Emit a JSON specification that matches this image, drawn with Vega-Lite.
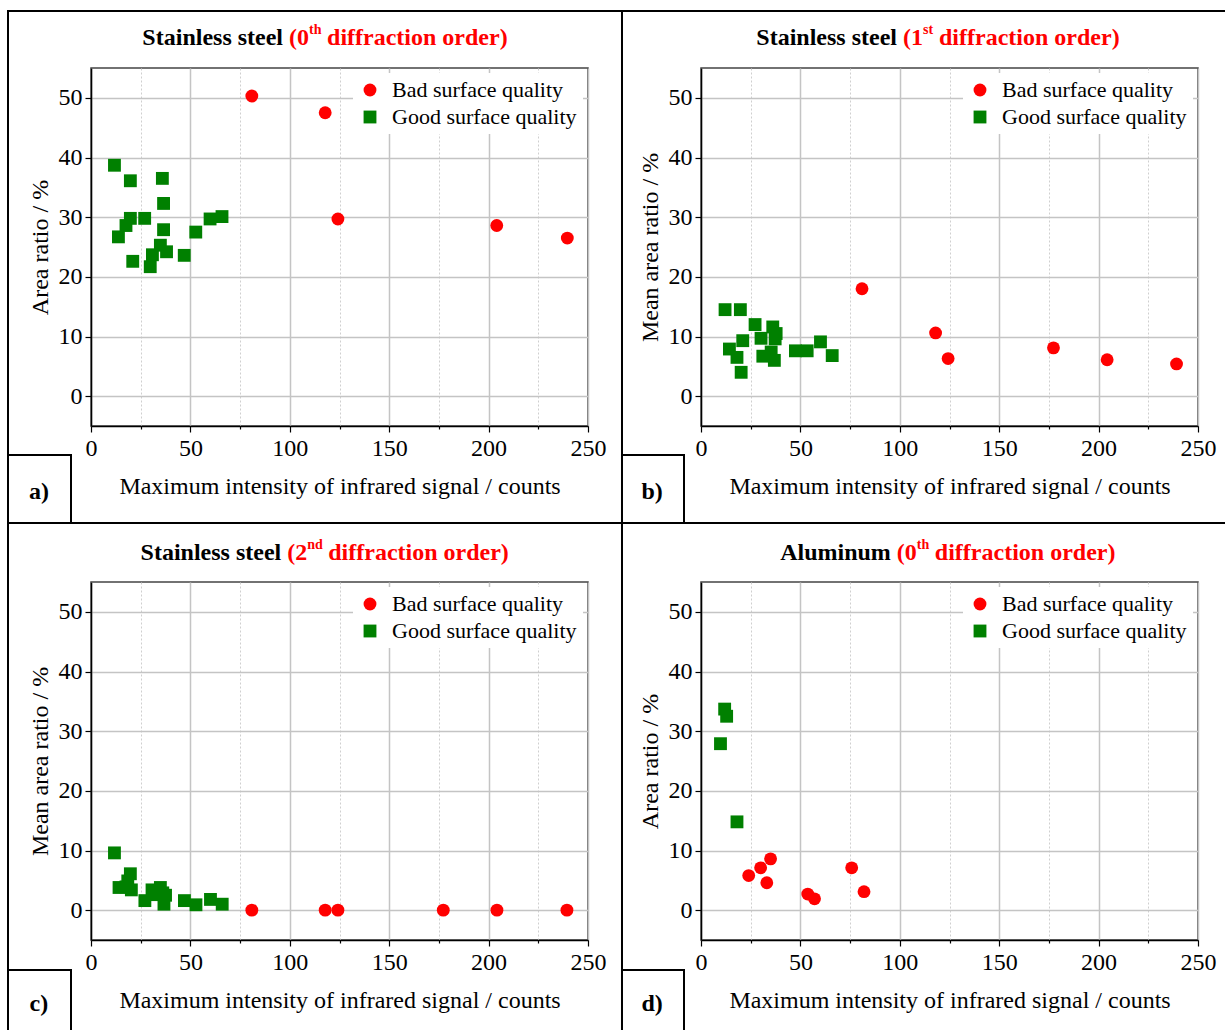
{
  "$schema": "https://vega.github.io/schema/vega-lite/v6.json",
  "background": "white",
  "padding": {"left": 6, "top": 9, "right": 0, "bottom": 0},
  "config": {
    "font": "Liberation Serif",
    "view": {"stroke": "#444444", "strokeWidth": 1.5},
    "axis": {
      "labelFont": "Liberation Serif", "labelFontSize": 24, "labelColor": "black",
      "titleFont": "Liberation Serif", "titleFontSize": 24, "titleFontWeight": "normal", "titleColor": "black",
      "domainColor": "black", "domainWidth": 1.5, "tickColor": "black", "tickWidth": 1.2, "tickSize": 6,
      "labelFlush": false, "labelOverlap": false
    },
    "legend": {
      "labelFont": "Liberation Serif", "labelFontSize": 22, "labelColor": "black",
      "fillColor": "white", "padding": 6, "symbolSize": 165, "rowPadding": 5,
      "labelOffset": 11, "offset": 5, "labelLimit": 400, "symbolStrokeWidth": 0
    }
  },
  "datasets": {
    "one": [{}],
    "ss0": [
      {"intensity": 80.9, "ratio": 50.3, "quality": "Bad surface quality"},
      {"intensity": 117.8, "ratio": 47.5, "quality": "Bad surface quality"},
      {"intensity": 124.2, "ratio": 29.7, "quality": "Bad surface quality"},
      {"intensity": 204.1, "ratio": 28.6, "quality": "Bad surface quality"},
      {"intensity": 239.6, "ratio": 26.5, "quality": "Bad surface quality"},
      {"intensity": 11.8, "ratio": 38.7, "quality": "Good surface quality"},
      {"intensity": 19.8, "ratio": 36.1, "quality": "Good surface quality"},
      {"intensity": 35.9, "ratio": 36.5, "quality": "Good surface quality"},
      {"intensity": 36.5, "ratio": 32.3, "quality": "Good surface quality"},
      {"intensity": 19.8, "ratio": 29.8, "quality": "Good surface quality"},
      {"intensity": 17.6, "ratio": 28.6, "quality": "Good surface quality"},
      {"intensity": 13.8, "ratio": 26.7, "quality": "Good surface quality"},
      {"intensity": 27.0, "ratio": 29.8, "quality": "Good surface quality"},
      {"intensity": 36.5, "ratio": 27.9, "quality": "Good surface quality"},
      {"intensity": 52.7, "ratio": 27.5, "quality": "Good surface quality"},
      {"intensity": 59.9, "ratio": 29.7, "quality": "Good surface quality"},
      {"intensity": 65.9, "ratio": 30.1, "quality": "Good surface quality"},
      {"intensity": 34.9, "ratio": 25.3, "quality": "Good surface quality"},
      {"intensity": 38.0, "ratio": 24.2, "quality": "Good surface quality"},
      {"intensity": 46.9, "ratio": 23.6, "quality": "Good surface quality"},
      {"intensity": 21.0, "ratio": 22.6, "quality": "Good surface quality"},
      {"intensity": 30.9, "ratio": 23.7, "quality": "Good surface quality"},
      {"intensity": 29.8, "ratio": 21.7, "quality": "Good surface quality"}
    ],
    "ss1": [
      {"intensity": 81.0, "ratio": 18.0, "quality": "Bad surface quality"},
      {"intensity": 118.0, "ratio": 10.6, "quality": "Bad surface quality"},
      {"intensity": 124.3, "ratio": 6.3, "quality": "Bad surface quality"},
      {"intensity": 177.3, "ratio": 8.1, "quality": "Bad surface quality"},
      {"intensity": 204.3, "ratio": 6.1, "quality": "Bad surface quality"},
      {"intensity": 239.2, "ratio": 5.4, "quality": "Bad surface quality"},
      {"intensity": 12.1, "ratio": 14.5, "quality": "Good surface quality"},
      {"intensity": 19.8, "ratio": 14.5, "quality": "Good surface quality"},
      {"intensity": 27.2, "ratio": 12.0, "quality": "Good surface quality"},
      {"intensity": 36.1, "ratio": 11.6, "quality": "Good surface quality"},
      {"intensity": 37.8, "ratio": 10.5, "quality": "Good surface quality"},
      {"intensity": 37.3, "ratio": 9.6, "quality": "Good surface quality"},
      {"intensity": 30.2, "ratio": 9.7, "quality": "Good surface quality"},
      {"intensity": 21.0, "ratio": 9.3, "quality": "Good surface quality"},
      {"intensity": 14.3, "ratio": 7.9, "quality": "Good surface quality"},
      {"intensity": 18.1, "ratio": 6.5, "quality": "Good surface quality"},
      {"intensity": 20.2, "ratio": 4.0, "quality": "Good surface quality"},
      {"intensity": 31.1, "ratio": 6.7, "quality": "Good surface quality"},
      {"intensity": 35.3, "ratio": 7.4, "quality": "Good surface quality"},
      {"intensity": 36.9, "ratio": 6.0, "quality": "Good surface quality"},
      {"intensity": 47.5, "ratio": 7.6, "quality": "Good surface quality"},
      {"intensity": 53.4, "ratio": 7.6, "quality": "Good surface quality"},
      {"intensity": 60.1, "ratio": 9.1, "quality": "Good surface quality"},
      {"intensity": 66.0, "ratio": 6.8, "quality": "Good surface quality"}
    ],
    "ss2": [
      {"intensity": 80.9, "ratio": 0, "quality": "Bad surface quality"},
      {"intensity": 117.8, "ratio": 0, "quality": "Bad surface quality"},
      {"intensity": 124.2, "ratio": 0, "quality": "Bad surface quality"},
      {"intensity": 177.2, "ratio": 0, "quality": "Bad surface quality"},
      {"intensity": 204.2, "ratio": 0, "quality": "Bad surface quality"},
      {"intensity": 239.4, "ratio": 0, "quality": "Bad surface quality"},
      {"intensity": 11.8, "ratio": 9.6, "quality": "Good surface quality"},
      {"intensity": 19.8, "ratio": 6.1, "quality": "Good surface quality"},
      {"intensity": 18.5, "ratio": 4.9, "quality": "Good surface quality"},
      {"intensity": 14.1, "ratio": 3.8, "quality": "Good surface quality"},
      {"intensity": 20.3, "ratio": 3.4, "quality": "Good surface quality"},
      {"intensity": 17.6, "ratio": 3.9, "quality": "Good surface quality"},
      {"intensity": 27.1, "ratio": 1.6, "quality": "Good surface quality"},
      {"intensity": 30.7, "ratio": 3.4, "quality": "Good surface quality"},
      {"intensity": 34.9, "ratio": 3.8, "quality": "Good surface quality"},
      {"intensity": 37.5, "ratio": 2.5, "quality": "Good surface quality"},
      {"intensity": 36.7, "ratio": 1.0, "quality": "Good surface quality"},
      {"intensity": 31.5, "ratio": 2.6, "quality": "Good surface quality"},
      {"intensity": 36.1, "ratio": 2.9, "quality": "Good surface quality"},
      {"intensity": 47.0, "ratio": 1.6, "quality": "Good surface quality"},
      {"intensity": 52.8, "ratio": 0.9, "quality": "Good surface quality"},
      {"intensity": 60.1, "ratio": 1.8, "quality": "Good surface quality"},
      {"intensity": 66.0, "ratio": 1.0, "quality": "Good surface quality"}
    ],
    "al0": [
      {"intensity": 24.0, "ratio": 5.8, "quality": "Bad surface quality"},
      {"intensity": 30.0, "ratio": 7.1, "quality": "Bad surface quality"},
      {"intensity": 35.0, "ratio": 8.6, "quality": "Bad surface quality"},
      {"intensity": 33.1, "ratio": 4.6, "quality": "Bad surface quality"},
      {"intensity": 53.7, "ratio": 2.7, "quality": "Bad surface quality"},
      {"intensity": 57.1, "ratio": 1.9, "quality": "Bad surface quality"},
      {"intensity": 75.8, "ratio": 7.1, "quality": "Bad surface quality"},
      {"intensity": 82.0, "ratio": 3.1, "quality": "Bad surface quality"},
      {"intensity": 11.9, "ratio": 33.7, "quality": "Good surface quality"},
      {"intensity": 12.9, "ratio": 32.5, "quality": "Good surface quality"},
      {"intensity": 9.8, "ratio": 27.9, "quality": "Good surface quality"},
      {"intensity": 18.1, "ratio": 14.8, "quality": "Good surface quality"}
    ]
  },
  "columns": 2,
  "spacing": {"row": 156, "column": 113},
  "bounds": "flush",
  "resolve": {
    "scale": {"color": "independent", "shape": "independent"},
    "legend": {"color": "independent", "shape": "independent"}
  },
  "concat": [
    {
      "width": 497, "height": 358,
      "layer": [
        {"data": {"name": "ss0"}, "mark": {"type": "point", "filled": true, "opacity": 1, "size": 165},
         "encoding": {
           "x": {"field": "intensity", "type": "quantitative", "scale": {"domain": [0, 250], "nice": false, "zero": false},
                 "axis": {"title": "Maximum intensity of infrared signal / counts", "values": [0, 25, 50, 75, 100, 125, 150, 175, 200, 225, 250],
                          "labelExpr": "datum.value % 50 === 0 ? datum.label : ''", "grid": true,
                          "gridColor": {"condition": {"test": "datum.value % 50 === 0", "value": "#c4c4c4"}, "value": "#cfcfcf"},
                          "gridDash": {"condition": {"test": "datum.value % 50 === 0", "value": []}, "value": [2, 2]},
                          "gridWidth": {"condition": {"test": "datum.value % 50 === 0", "value": 1.5}, "value": 1},
                          "tickDash": {"condition": {"test": "datum.value % 50 === 0", "value": []}, "value": [3, 10]},
                          "labelPadding": 4, "titlePadding": 14}},
           "y": {"field": "ratio", "type": "quantitative", "scale": {"domain": [-5, 55], "nice": false, "zero": false},
                 "axis": {"title": "Area ratio / %", "values": [0, 5, 10, 15, 20, 25, 30, 35, 40, 45, 50],
                          "labelExpr": "datum.value % 10 === 0 ? datum.label : ''", "grid": true,
                          "gridColor": {"condition": {"test": "datum.value % 10 === 0", "value": "#c4c4c4"}, "value": "#cfcfcf"},
                          "gridDash": {"condition": {"test": "datum.value % 10 === 0", "value": []}, "value": [2, 2]},
                          "gridWidth": {"condition": {"test": "datum.value % 10 === 0", "value": 1.5}, "value": 1},
                          "tickDash": {"condition": {"test": "datum.value % 10 === 0", "value": []}, "value": [3, 10]},
                          "labelPadding": 3, "titlePadding": 6}},
           "color": {"field": "quality", "type": "nominal", "scale": {"domain": ["Bad surface quality", "Good surface quality"], "range": ["#ff0000", "#008000"]}, "legend": {"orient": "top-right", "title": null}},
           "shape": {"field": "quality", "type": "nominal", "scale": {"domain": ["Bad surface quality", "Good surface quality"], "range": ["circle", "square"]}, "legend": {"orient": "top-right", "title": null}}
         }},
        {"data": {"name": "one"}, "mark": {"type": "rect", "fill": "transparent", "stroke": "black", "strokeWidth": 2},
         "encoding": {"x": {"datum": -41.75, "type": "quantitative"}, "x2": {"datum": 267.1},
                      "y": {"datum": 64.553, "type": "quantitative"}, "y2": {"datum": -21.257}}},
        {"data": {"name": "one"}, "mark": {"type": "rect", "fill": "transparent", "stroke": "black", "strokeWidth": 2},
         "encoding": {"x": {"datum": -41.75, "type": "quantitative"}, "x2": {"datum": -10.06},
                      "y": {"datum": -9.86, "type": "quantitative"}, "y2": {"datum": -21.257}}},
        {"data": {"name": "one"}, "mark": {"type": "text", "font": "Liberation Serif", "fontSize": 24, "fontWeight": "bold", "fill": "black", "align": "center", "baseline": "middle"},
         "encoding": {"x": {"datum": -26.2, "type": "quantitative"}, "y": {"datum": -16.06, "type": "quantitative"}, "text": {"value": "a)"}}},
        {"data": {"name": "one"}, "mark": {"type": "text", "font": "Liberation Serif", "fontSize": 24, "fontWeight": "bold", "fill": "black", "align": "right", "baseline": "middle"},
         "encoding": {"x": {"datum": 96.6, "type": "quantitative"}, "y": {"datum": 60, "type": "quantitative"}, "text": {"value": "Stainless steel"}}},
        {"data": {"name": "one"}, "mark": {"type": "text", "font": "Liberation Serif", "fontSize": 24, "fontWeight": "bold", "fill": "#ff0000", "align": "left", "baseline": "middle", "dx": 6},
         "encoding": {"x": {"datum": 96.6, "type": "quantitative"}, "y": {"datum": 60, "type": "quantitative"}, "text": {"value": "(0"}}},
        {"data": {"name": "one"}, "mark": {"type": "text", "font": "Liberation Serif", "fontSize": 14, "fontWeight": "bold", "fill": "#ff0000", "align": "left", "baseline": "middle", "dx": 26, "dy": -8},
         "encoding": {"x": {"datum": 96.6, "type": "quantitative"}, "y": {"datum": 60, "type": "quantitative"}, "text": {"value": "th"}}},
        {"data": {"name": "one"}, "mark": {"type": "text", "font": "Liberation Serif", "fontSize": 24, "fontWeight": "bold", "fill": "#ff0000", "align": "left", "baseline": "middle", "dx": 44},
         "encoding": {"x": {"datum": 96.6, "type": "quantitative"}, "y": {"datum": 60, "type": "quantitative"}, "text": {"value": "diffraction order)"}}}
      ]
    },
    {
      "width": 497, "height": 358,
      "layer": [
        {"data": {"name": "ss1"}, "mark": {"type": "point", "filled": true, "opacity": 1, "size": 165},
         "encoding": {
           "x": {"field": "intensity", "type": "quantitative", "scale": {"domain": [0, 250], "nice": false, "zero": false},
                 "axis": {"title": "Maximum intensity of infrared signal / counts", "values": [0, 25, 50, 75, 100, 125, 150, 175, 200, 225, 250],
                          "labelExpr": "datum.value % 50 === 0 ? datum.label : ''", "grid": true,
                          "gridColor": {"condition": {"test": "datum.value % 50 === 0", "value": "#c4c4c4"}, "value": "#cfcfcf"},
                          "gridDash": {"condition": {"test": "datum.value % 50 === 0", "value": []}, "value": [2, 2]},
                          "gridWidth": {"condition": {"test": "datum.value % 50 === 0", "value": 1.5}, "value": 1},
                          "tickDash": {"condition": {"test": "datum.value % 50 === 0", "value": []}, "value": [3, 10]},
                          "labelPadding": 4, "titlePadding": 14}},
           "y": {"field": "ratio", "type": "quantitative", "scale": {"domain": [-5, 55], "nice": false, "zero": false},
                 "axis": {"title": "Mean area ratio / %", "values": [0, 5, 10, 15, 20, 25, 30, 35, 40, 45, 50],
                          "labelExpr": "datum.value % 10 === 0 ? datum.label : ''", "grid": true,
                          "gridColor": {"condition": {"test": "datum.value % 10 === 0", "value": "#c4c4c4"}, "value": "#cfcfcf"},
                          "gridDash": {"condition": {"test": "datum.value % 10 === 0", "value": []}, "value": [2, 2]},
                          "gridWidth": {"condition": {"test": "datum.value % 10 === 0", "value": 1.5}, "value": 1},
                          "tickDash": {"condition": {"test": "datum.value % 10 === 0", "value": []}, "value": [3, 10]},
                          "labelPadding": 3, "titlePadding": 6}},
           "color": {"field": "quality", "type": "nominal", "scale": {"domain": ["Bad surface quality", "Good surface quality"], "range": ["#ff0000", "#008000"]}, "legend": {"orient": "top-right", "title": null}},
           "shape": {"field": "quality", "type": "nominal", "scale": {"domain": ["Bad surface quality", "Good surface quality"], "range": ["circle", "square"]}, "legend": {"orient": "top-right", "title": null}}
         }},
        {"data": {"name": "one"}, "mark": {"type": "rect", "fill": "transparent", "stroke": "black", "strokeWidth": 2},
         "encoding": {"x": {"datum": -39.74, "type": "quantitative"}, "x2": {"datum": 264.59},
                      "y": {"datum": 64.553, "type": "quantitative"}, "y2": {"datum": -21.257}}},
        {"data": {"name": "one"}, "mark": {"type": "rect", "fill": "transparent", "stroke": "black", "strokeWidth": 2},
         "encoding": {"x": {"datum": -39.74, "type": "quantitative"}, "x2": {"datum": -8.55},
                      "y": {"datum": -9.86, "type": "quantitative"}, "y2": {"datum": -21.257}}},
        {"data": {"name": "one"}, "mark": {"type": "text", "font": "Liberation Serif", "fontSize": 24, "fontWeight": "bold", "fill": "black", "align": "center", "baseline": "middle"},
         "encoding": {"x": {"datum": -24.6, "type": "quantitative"}, "y": {"datum": -16.06, "type": "quantitative"}, "text": {"value": "b)"}}},
        {"data": {"name": "one"}, "mark": {"type": "text", "font": "Liberation Serif", "fontSize": 24, "fontWeight": "bold", "fill": "black", "align": "right", "baseline": "middle"},
         "encoding": {"x": {"datum": 98.6, "type": "quantitative"}, "y": {"datum": 60, "type": "quantitative"}, "text": {"value": "Stainless steel"}}},
        {"data": {"name": "one"}, "mark": {"type": "text", "font": "Liberation Serif", "fontSize": 24, "fontWeight": "bold", "fill": "#ff0000", "align": "left", "baseline": "middle", "dx": 6},
         "encoding": {"x": {"datum": 98.6, "type": "quantitative"}, "y": {"datum": 60, "type": "quantitative"}, "text": {"value": "(1"}}},
        {"data": {"name": "one"}, "mark": {"type": "text", "font": "Liberation Serif", "fontSize": 14, "fontWeight": "bold", "fill": "#ff0000", "align": "left", "baseline": "middle", "dx": 26, "dy": -8},
         "encoding": {"x": {"datum": 98.6, "type": "quantitative"}, "y": {"datum": 60, "type": "quantitative"}, "text": {"value": "st"}}},
        {"data": {"name": "one"}, "mark": {"type": "text", "font": "Liberation Serif", "fontSize": 24, "fontWeight": "bold", "fill": "#ff0000", "align": "left", "baseline": "middle", "dx": 42},
         "encoding": {"x": {"datum": 98.6, "type": "quantitative"}, "y": {"datum": 60, "type": "quantitative"}, "text": {"value": "diffraction order)"}}}
      ]
    },
    {
      "width": 497, "height": 358,
      "layer": [
        {"data": {"name": "ss2"}, "mark": {"type": "point", "filled": true, "opacity": 1, "size": 165},
         "encoding": {
           "x": {"field": "intensity", "type": "quantitative", "scale": {"domain": [0, 250], "nice": false, "zero": false},
                 "axis": {"title": "Maximum intensity of infrared signal / counts", "values": [0, 25, 50, 75, 100, 125, 150, 175, 200, 225, 250],
                          "labelExpr": "datum.value % 50 === 0 ? datum.label : ''", "grid": true,
                          "gridColor": {"condition": {"test": "datum.value % 50 === 0", "value": "#c4c4c4"}, "value": "#cfcfcf"},
                          "gridDash": {"condition": {"test": "datum.value % 50 === 0", "value": []}, "value": [2, 2]},
                          "gridWidth": {"condition": {"test": "datum.value % 50 === 0", "value": 1.5}, "value": 1},
                          "tickDash": {"condition": {"test": "datum.value % 50 === 0", "value": []}, "value": [3, 10]},
                          "labelPadding": 4, "titlePadding": 14}},
           "y": {"field": "ratio", "type": "quantitative", "scale": {"domain": [-5, 55], "nice": false, "zero": false},
                 "axis": {"title": "Mean area ratio / %", "values": [0, 5, 10, 15, 20, 25, 30, 35, 40, 45, 50],
                          "labelExpr": "datum.value % 10 === 0 ? datum.label : ''", "grid": true,
                          "gridColor": {"condition": {"test": "datum.value % 10 === 0", "value": "#c4c4c4"}, "value": "#cfcfcf"},
                          "gridDash": {"condition": {"test": "datum.value % 10 === 0", "value": []}, "value": [2, 2]},
                          "gridWidth": {"condition": {"test": "datum.value % 10 === 0", "value": 1.5}, "value": 1},
                          "tickDash": {"condition": {"test": "datum.value % 10 === 0", "value": []}, "value": [3, 10]},
                          "labelPadding": 3, "titlePadding": 6}},
           "color": {"field": "quality", "type": "nominal", "scale": {"domain": ["Bad surface quality", "Good surface quality"], "range": ["#ff0000", "#008000"]}, "legend": {"orient": "top-right", "title": null}},
           "shape": {"field": "quality", "type": "nominal", "scale": {"domain": ["Bad surface quality", "Good surface quality"], "range": ["circle", "square"]}, "legend": {"orient": "top-right", "title": null}}
         }},
        {"data": {"name": "one"}, "mark": {"type": "rect", "fill": "transparent", "stroke": "black", "strokeWidth": 2},
         "encoding": {"x": {"datum": -41.75, "type": "quantitative"}, "x2": {"datum": 267.1},
                      "y": {"datum": 64.888, "type": "quantitative"}, "y2": {"datum": -20.419}}},
        {"data": {"name": "one"}, "mark": {"type": "rect", "fill": "transparent", "stroke": "black", "strokeWidth": 2},
         "encoding": {"x": {"datum": -41.75, "type": "quantitative"}, "x2": {"datum": -10.06},
                      "y": {"datum": -10.03, "type": "quantitative"}, "y2": {"datum": -20.419}}},
        {"data": {"name": "one"}, "mark": {"type": "text", "font": "Liberation Serif", "fontSize": 24, "fontWeight": "bold", "fill": "black", "align": "center", "baseline": "middle"},
         "encoding": {"x": {"datum": -26.2, "type": "quantitative"}, "y": {"datum": -15.73, "type": "quantitative"}, "text": {"value": "c)"}}},
        {"data": {"name": "one"}, "mark": {"type": "text", "font": "Liberation Serif", "fontSize": 24, "fontWeight": "bold", "fill": "black", "align": "right", "baseline": "middle"},
         "encoding": {"x": {"datum": 95.7, "type": "quantitative"}, "y": {"datum": 59.86, "type": "quantitative"}, "text": {"value": "Stainless steel"}}},
        {"data": {"name": "one"}, "mark": {"type": "text", "font": "Liberation Serif", "fontSize": 24, "fontWeight": "bold", "fill": "#ff0000", "align": "left", "baseline": "middle", "dx": 6},
         "encoding": {"x": {"datum": 95.7, "type": "quantitative"}, "y": {"datum": 59.86, "type": "quantitative"}, "text": {"value": "(2"}}},
        {"data": {"name": "one"}, "mark": {"type": "text", "font": "Liberation Serif", "fontSize": 14, "fontWeight": "bold", "fill": "#ff0000", "align": "left", "baseline": "middle", "dx": 26, "dy": -8},
         "encoding": {"x": {"datum": 95.7, "type": "quantitative"}, "y": {"datum": 59.86, "type": "quantitative"}, "text": {"value": "nd"}}},
        {"data": {"name": "one"}, "mark": {"type": "text", "font": "Liberation Serif", "fontSize": 24, "fontWeight": "bold", "fill": "#ff0000", "align": "left", "baseline": "middle", "dx": 47},
         "encoding": {"x": {"datum": 95.7, "type": "quantitative"}, "y": {"datum": 59.86, "type": "quantitative"}, "text": {"value": "diffraction order)"}}}
      ]
    },
    {
      "width": 497, "height": 358,
      "layer": [
        {"data": {"name": "al0"}, "mark": {"type": "point", "filled": true, "opacity": 1, "size": 165},
         "encoding": {
           "x": {"field": "intensity", "type": "quantitative", "scale": {"domain": [0, 250], "nice": false, "zero": false},
                 "axis": {"title": "Maximum intensity of infrared signal / counts", "values": [0, 25, 50, 75, 100, 125, 150, 175, 200, 225, 250],
                          "labelExpr": "datum.value % 50 === 0 ? datum.label : ''", "grid": true,
                          "gridColor": {"condition": {"test": "datum.value % 50 === 0", "value": "#c4c4c4"}, "value": "#cfcfcf"},
                          "gridDash": {"condition": {"test": "datum.value % 50 === 0", "value": []}, "value": [2, 2]},
                          "gridWidth": {"condition": {"test": "datum.value % 50 === 0", "value": 1.5}, "value": 1},
                          "tickDash": {"condition": {"test": "datum.value % 50 === 0", "value": []}, "value": [3, 10]},
                          "labelPadding": 4, "titlePadding": 14}},
           "y": {"field": "ratio", "type": "quantitative", "scale": {"domain": [-5, 55], "nice": false, "zero": false},
                 "axis": {"title": "Area ratio / %", "values": [0, 5, 10, 15, 20, 25, 30, 35, 40, 45, 50],
                          "labelExpr": "datum.value % 10 === 0 ? datum.label : ''", "grid": true,
                          "gridColor": {"condition": {"test": "datum.value % 10 === 0", "value": "#c4c4c4"}, "value": "#cfcfcf"},
                          "gridDash": {"condition": {"test": "datum.value % 10 === 0", "value": []}, "value": [2, 2]},
                          "gridWidth": {"condition": {"test": "datum.value % 10 === 0", "value": 1.5}, "value": 1},
                          "tickDash": {"condition": {"test": "datum.value % 10 === 0", "value": []}, "value": [3, 10]},
                          "labelPadding": 3, "titlePadding": 6}},
           "color": {"field": "quality", "type": "nominal", "scale": {"domain": ["Bad surface quality", "Good surface quality"], "range": ["#ff0000", "#008000"]}, "legend": {"orient": "top-right", "title": null}},
           "shape": {"field": "quality", "type": "nominal", "scale": {"domain": ["Bad surface quality", "Good surface quality"], "range": ["circle", "square"]}, "legend": {"orient": "top-right", "title": null}}
         }},
        {"data": {"name": "one"}, "mark": {"type": "rect", "fill": "transparent", "stroke": "black", "strokeWidth": 2},
         "encoding": {"x": {"datum": -39.74, "type": "quantitative"}, "x2": {"datum": 264.59},
                      "y": {"datum": 64.888, "type": "quantitative"}, "y2": {"datum": -20.419}}},
        {"data": {"name": "one"}, "mark": {"type": "rect", "fill": "transparent", "stroke": "black", "strokeWidth": 2},
         "encoding": {"x": {"datum": -39.74, "type": "quantitative"}, "x2": {"datum": -8.55},
                      "y": {"datum": -10.03, "type": "quantitative"}, "y2": {"datum": -20.419}}},
        {"data": {"name": "one"}, "mark": {"type": "text", "font": "Liberation Serif", "fontSize": 24, "fontWeight": "bold", "fill": "black", "align": "center", "baseline": "middle"},
         "encoding": {"x": {"datum": -24.6, "type": "quantitative"}, "y": {"datum": -15.73, "type": "quantitative"}, "text": {"value": "d)"}}},
        {"data": {"name": "one"}, "mark": {"type": "text", "font": "Liberation Serif", "fontSize": 24, "fontWeight": "bold", "fill": "black", "align": "right", "baseline": "middle"},
         "encoding": {"x": {"datum": 95.5, "type": "quantitative"}, "y": {"datum": 59.86, "type": "quantitative"}, "text": {"value": "Aluminum"}}},
        {"data": {"name": "one"}, "mark": {"type": "text", "font": "Liberation Serif", "fontSize": 24, "fontWeight": "bold", "fill": "#ff0000", "align": "left", "baseline": "middle", "dx": 6},
         "encoding": {"x": {"datum": 95.5, "type": "quantitative"}, "y": {"datum": 59.86, "type": "quantitative"}, "text": {"value": "(0"}}},
        {"data": {"name": "one"}, "mark": {"type": "text", "font": "Liberation Serif", "fontSize": 14, "fontWeight": "bold", "fill": "#ff0000", "align": "left", "baseline": "middle", "dx": 26, "dy": -8},
         "encoding": {"x": {"datum": 95.5, "type": "quantitative"}, "y": {"datum": 59.86, "type": "quantitative"}, "text": {"value": "th"}}},
        {"data": {"name": "one"}, "mark": {"type": "text", "font": "Liberation Serif", "fontSize": 24, "fontWeight": "bold", "fill": "#ff0000", "align": "left", "baseline": "middle", "dx": 44},
         "encoding": {"x": {"datum": 95.5, "type": "quantitative"}, "y": {"datum": 59.86, "type": "quantitative"}, "text": {"value": "diffraction order)"}}}
      ]
    }
  ]
}
